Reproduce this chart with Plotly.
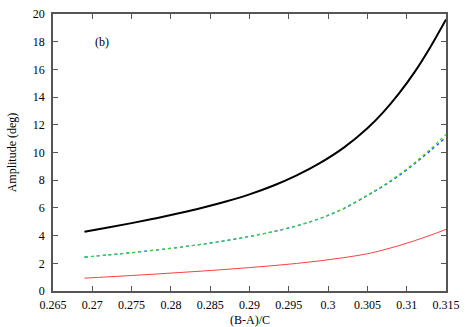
"""Amplitude vs (B-A)/C, panel (b)."""

import plotly.graph_objects as go

# data
ratio = [0.269, 0.272, 0.275, 0.278, 0.281, 0.284, 0.287, 0.290, 0.293,
         0.296, 0.299, 0.302, 0.305, 0.307, 0.309, 0.311, 0.313, 0.315]
amp_black = [4.28, 4.58, 4.90, 5.24, 5.61, 6.01, 6.46, 6.98, 7.60,
             8.35, 9.25, 10.35, 11.75, 12.90, 14.25, 15.80, 17.60, 19.60]
amp_green = [2.45, 2.60, 2.77, 2.95, 3.15, 3.38, 3.64, 3.94, 4.29,
             4.71, 5.26, 5.98, 6.93, 7.61, 8.39, 9.27, 10.24, 11.30]
amp_blue = [2.45, 2.60, 2.77, 2.95, 3.15, 3.38, 3.64, 3.94, 4.28,
            4.70, 5.24, 5.95, 6.89, 7.56, 8.32, 9.18, 10.12, 11.10]
amp_red = [0.93, 1.02, 1.12, 1.22, 1.33, 1.44, 1.56, 1.69, 1.83,
           1.99, 2.18, 2.41, 2.69, 2.96, 3.27, 3.63, 4.02, 4.45]

x_ticks = [0.265, 0.27, 0.275, 0.28, 0.285, 0.29, 0.295, 0.3, 0.305, 0.31, 0.315]
x_tick_text = ["0.265", "0.27", "0.275", "0.28", "0.285", "0.29", "0.295",
               "0.3", "0.305", "0.31", "0.315"]
y_ticks = [0, 2, 4, 6, 8, 10, 12, 14, 16, 18, 20]

FONT = "Liberation Serif, Times New Roman, serif"

fig = go.Figure()

fig.add_trace(go.Scatter(x=ratio, y=amp_red, mode="lines", line_shape="spline",
                         line=dict(color="#ff4040", width=1)))
fig.add_trace(go.Scatter(x=ratio, y=amp_blue, mode="lines", line_shape="spline",
                         line=dict(color="#2040ff", width=1.2, dash="dot")))
fig.add_trace(go.Scatter(x=ratio, y=amp_green, mode="lines", line_shape="spline",
                         line=dict(color="#30e030", width=1.2, dash="dot")))
fig.add_trace(go.Scatter(x=ratio, y=amp_black, mode="lines", line_shape="spline",
                         line=dict(color="black", width=2)))

axis_style = dict(
    showline=True, mirror="ticks", linecolor="#555555", linewidth=1.5,
    ticks="inside", ticklen=5, tickcolor="#555555", tickwidth=1,
    showgrid=False, zeroline=False, automargin=False,
    tickfont=dict(family=FONT, size=12, color="black"),
)

fig.update_xaxes(range=[0.265, 0.315], tickvals=x_ticks, ticktext=x_tick_text,
                 ticklabelstandoff=2, **axis_style)
fig.update_yaxes(range=[0, 20], tickvals=y_ticks, ticklabelstandoff=4,
                 title=dict(text="Amplitude (deg)", font=dict(family=FONT, size=12, color="black"),
                            standoff=14),
                 **axis_style)

# x title as a paper annotation so it stays clear of the tick labels
fig.add_annotation(x=0.5, y=-0.105, xref="paper", yref="paper", text="(B-A)/C",
                   showarrow=False, yanchor="middle",
                   font=dict(family=FONT, size=12, color="black"))
fig.add_annotation(x=0.2712, y=18, text="(b)", showarrow=False,
                   font=dict(family=FONT, size=12, color="black"))

fig.update_layout(
    width=467, height=327,
    margin=dict(l=53, r=21, t=14, b=36),
    plot_bgcolor="white", paper_bgcolor="white",
    showlegend=False,
)

# page body has a default 8px margin; drop it so the figure sits at 0,0
fig.write_html("out.html", config={"displayModeBar": False},
               post_script="document.body.style.margin='0px';")
